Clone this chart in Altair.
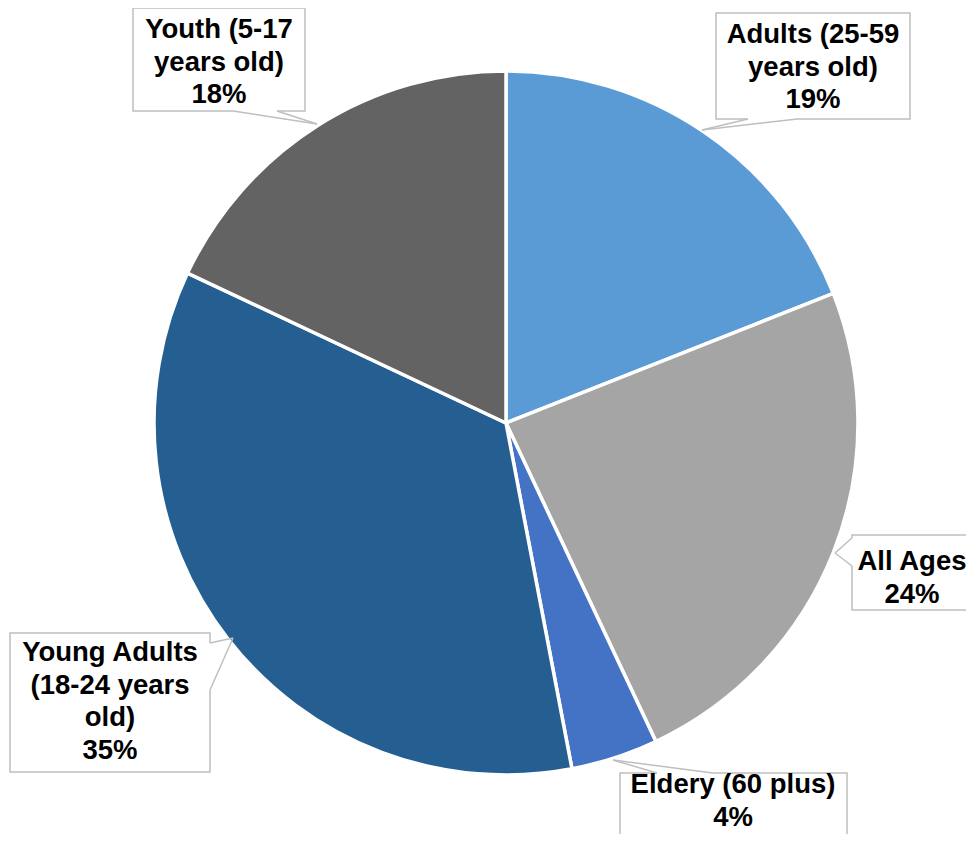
import altair as alt
import pandas as pd

# ---- data ----
categories = ["Adults (25-59 years old)", "All Ages", "Eldery (60 plus)",
              "Young Adults (18-24 years old)", "Youth (5-17 years old)"]
values = [19, 24, 4, 35, 18]
label_text = ["Adults (25-59\nyears old)\n19%", "All Ages\n24%", "Eldery (60 plus)\n4%",
              "Young Adults\n(18-24 years\nold)\n35%", "Youth (5-17\nyears old)\n18%"]
colors = ["#5B9BD5", "#A5A5A5", "#4472C4", "#255E91", "#636363"]

# ---- layout (chart pixel coordinates) for callout boxes ----
box_x1 = [708, 844, 612, 2, 125]
box_x2 = [902, 975, 839, 202, 297]
box_y1 = [5, 527, 765, 625, 0]
box_y2 = [111, 602, 840, 764, 103]
text_x = [805, 904, 725, 102, 211]
text_y = [27, 554, 777, 645, 22]
tip_x = [694, 827, 605, 225, 309]
tip_y = [122, 545, 752, 630, 116]
base1_x = [740, 844, 649, 202, 225]
base1_y = [111, 530, 765, 635, 103]
base2_x = [789, 844, 705, 202, 269]
base2_y = [111, 558, 765, 682, 103]

W, H = 958, 826
CX, CY, R = 498, 415, 352

df = pd.DataFrame({"category": categories, "value": values, "idx": list(range(5))})
lab = pd.DataFrame({
    "label": label_text, "x1": box_x1, "x2": box_x2, "y1": box_y1, "y2": box_y2,
    "tx": text_x, "ty": text_y, "px": tip_x, "py": tip_y,
    "b1x": base1_x, "b1y": base1_y, "b2x": base2_x, "b2y": base2_y,
})

xs = alt.Scale(domain=[0, W], range=[0, W])
ys = alt.Scale(domain=[0, H], range=[0, H])

pie = alt.Chart(df).mark_arc(radius=R, stroke="white", strokeWidth=3.5).encode(
    theta=alt.Theta("value:Q", stack=True),
    order=alt.Order("idx:Q"),
    color=alt.Color("category:N", scale=alt.Scale(domain=categories, range=colors), legend=None),
    x=alt.value(CX), y=alt.value(CY),
)

base = alt.Chart(lab)
boxes = base.mark_rect(fill="white", stroke="#BFBFBF", strokeWidth=1.5).encode(
    x=alt.X("x1:Q", scale=xs, axis=None), x2="x2:Q",
    y=alt.Y("y1:Q", scale=ys, axis=None), y2="y2:Q",
)
gap = base.mark_rule(color="white", strokeWidth=3).encode(
    x=alt.X("b1x:Q", scale=xs, axis=None), x2="b2x:Q",
    y=alt.Y("b1y:Q", scale=ys, axis=None), y2="b2y:Q",
)
ptr1 = base.mark_rule(color="#BFBFBF", strokeWidth=1.5).encode(
    x=alt.X("b1x:Q", scale=xs, axis=None), x2="px:Q",
    y=alt.Y("b1y:Q", scale=ys, axis=None), y2="py:Q",
)
ptr2 = base.mark_rule(color="#BFBFBF", strokeWidth=1.5).encode(
    x=alt.X("b2x:Q", scale=xs, axis=None), x2="px:Q",
    y=alt.Y("b2y:Q", scale=ys, axis=None), y2="py:Q",
)
texts = base.mark_text(font="Liberation Sans", fontWeight="bold", fontSize=27.5,
                       lineBreak="\n", lineHeight=32.5, align="center",
                       baseline="middle", color="black").encode(
    x=alt.X("tx:Q", scale=xs, axis=None),
    y=alt.Y("ty:Q", scale=ys, axis=None),
    text="label:N",
)

chart = alt.layer(pie, boxes, gap, ptr1, ptr2, texts).properties(
    width=W, height=H, padding=0, autosize=alt.AutoSizeParams(type="none")
).configure_view(stroke=None)

chart.save("out.html", embed_options={"renderer": "svg", "actions": False})
